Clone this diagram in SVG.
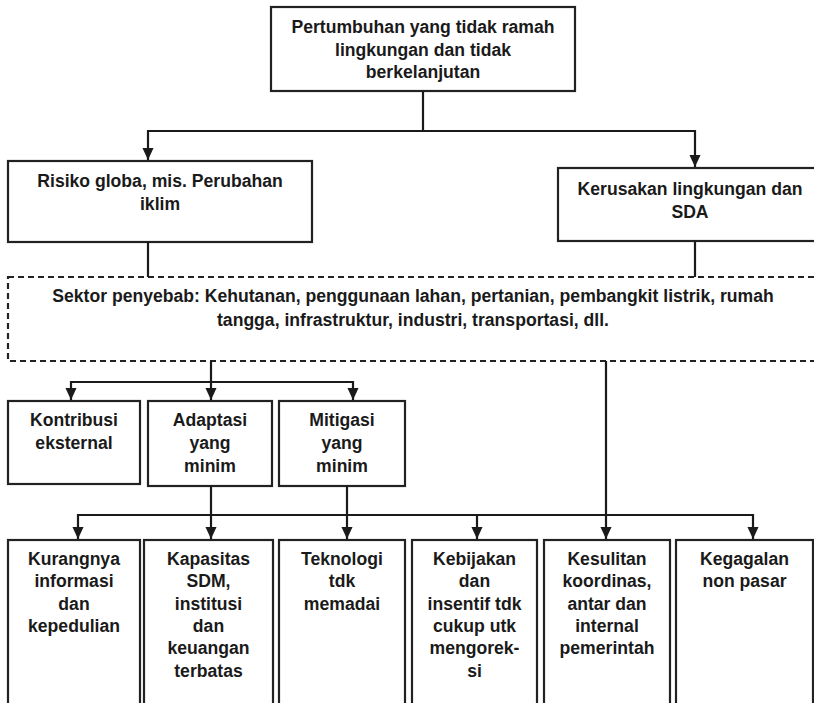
<svg xmlns="http://www.w3.org/2000/svg" width="814" height="703" viewBox="0 0 814 703">
<style>
.box{fill:#ffffff;stroke:#222;stroke-width:2.2}
.dash{fill:#ffffff;stroke:#222;stroke-width:2.2;stroke-dasharray:6 4}
.con{fill:none;stroke:#1a1a1a;stroke-width:2.2}
text{font-family:"Liberation Sans",Arial,sans-serif;font-weight:bold;font-size:17.6px;fill:#1a1a1a;text-anchor:middle}
</style>
<defs>
<marker id="arr" markerUnits="userSpaceOnUse" markerWidth="12" markerHeight="13" refX="13" refY="6" orient="auto" viewBox="0 0 13 12">
<path d="M0,0 L13,6 L0,12 z" fill="#1a1a1a"/>
</marker>
</defs>
<rect width="814" height="703" fill="#ffffff"/>
<g id="n-top">
<rect class="box" x="271" y="7" width="304" height="84"/>
<text x="423" y="33">Pertumbuhan yang tidak ramah</text>
<text x="423" y="56">lingkungan dan tidak</text>
<text x="423" y="78">berkelanjutan</text>
</g>
<g id="n-risiko">
<rect class="box" x="8" y="161" width="304" height="81"/>
<text x="160" y="187">Risiko globa, mis. Perubahan</text>
<text x="160" y="210">iklim</text>
</g>
<g id="n-kerusakan">
<rect class="box" x="558" y="168" width="262" height="73"/>
<text x="690" y="195">Kerusakan lingkungan dan</text>
<text x="690" y="218">SDA</text>
</g>
<g id="n-sektor">
<rect class="dash" x="8" y="277" width="812" height="84"/>
<text x="413" y="302">Sektor penyebab: Kehutanan, penggunaan lahan, pertanian, pembangkit listrik, rumah</text>
<text x="413" y="326">tangga, infrastruktur, industri, transportasi, dll.</text>
</g>
<g id="n-kontribusi">
<rect class="box" x="8" y="401" width="132" height="83"/>
<text x="74" y="426">Kontribusi</text>
<text x="74" y="449">eksternal</text>
</g>
<g id="n-adaptasi">
<rect class="box" x="148" y="401" width="124" height="85"/>
<text x="210" y="426">Adaptasi</text>
<text x="210" y="449">yang</text>
<text x="210" y="472">minim</text>
</g>
<g id="n-mitigasi">
<rect class="box" x="279" y="401" width="126" height="85"/>
<text x="342" y="426">Mitigasi</text>
<text x="342" y="449">yang</text>
<text x="342" y="472">minim</text>
</g>
<g id="n-kurangnya">
<rect class="box" x="8" y="540" width="132" height="200"/>
<text x="74" y="565">Kurangnya</text>
<text x="74" y="587">informasi</text>
<text x="74" y="610">dan</text>
<text x="74" y="632">kepedulian</text>
</g>
<g id="n-kapasitas">
<rect class="box" x="144" y="540" width="129" height="200"/>
<text x="208.5" y="565">Kapasitas</text>
<text x="208.5" y="587">SDM,</text>
<text x="208.5" y="610">institusi</text>
<text x="208.5" y="632">dan</text>
<text x="208.5" y="654">keuangan</text>
<text x="208.5" y="677">terbatas</text>
</g>
<g id="n-teknologi">
<rect class="box" x="279" y="540" width="126" height="200"/>
<text x="342" y="565">Teknologi</text>
<text x="342" y="587">tdk</text>
<text x="342" y="610">memadai</text>
</g>
<g id="n-kebijakan">
<rect class="box" x="412" y="540" width="125" height="200"/>
<text x="474.5" y="565">Kebijakan</text>
<text x="474.5" y="587">dan</text>
<text x="474.5" y="610">insentif tdk</text>
<text x="474.5" y="632">cukup utk</text>
<text x="474.5" y="654">mengorek-</text>
<text x="474.5" y="677">si</text>
</g>
<g id="n-kesulitan">
<rect class="box" x="544" y="540" width="126" height="200"/>
<text x="607" y="565">Kesulitan</text>
<text x="607" y="587">koordinas,</text>
<text x="607" y="610">antar dan</text>
<text x="607" y="632">internal</text>
<text x="607" y="654">pemerintah</text>
</g>
<g id="n-kegagalan">
<rect class="box" x="676" y="540" width="137" height="200"/>
<text x="744.5" y="565">Kegagalan</text>
<text x="744.5" y="587">non pasar</text>
</g>
<g id="connectors">
<path class="con" d="M423,91 V131 H148 V160" marker-end="url(#arr)"/>
<path class="con" d="M423,131 H695 V167" marker-end="url(#arr)"/>
<path class="con" d="M148,242 V277"/>
<path class="con" d="M695,241 V277"/>
<path class="con" d="M211,361 V400" marker-end="url(#arr)"/>
<path class="con" d="M211,382 H71 V400" marker-end="url(#arr)"/>
<path class="con" d="M211,382 H353 V400" marker-end="url(#arr)"/>
<path class="con" d="M606,361 V539" marker-end="url(#arr)"/>
<path class="con" d="M211,486 V539" marker-end="url(#arr)"/>
<path class="con" d="M347,486 V539" marker-end="url(#arr)"/>
<path class="con" d="M347,515 H78 V539" marker-end="url(#arr)"/>
<path class="con" d="M347,515 H753 V539" marker-end="url(#arr)"/>
<path class="con" d="M477,515 V539" marker-end="url(#arr)"/>
</g>
</svg>
